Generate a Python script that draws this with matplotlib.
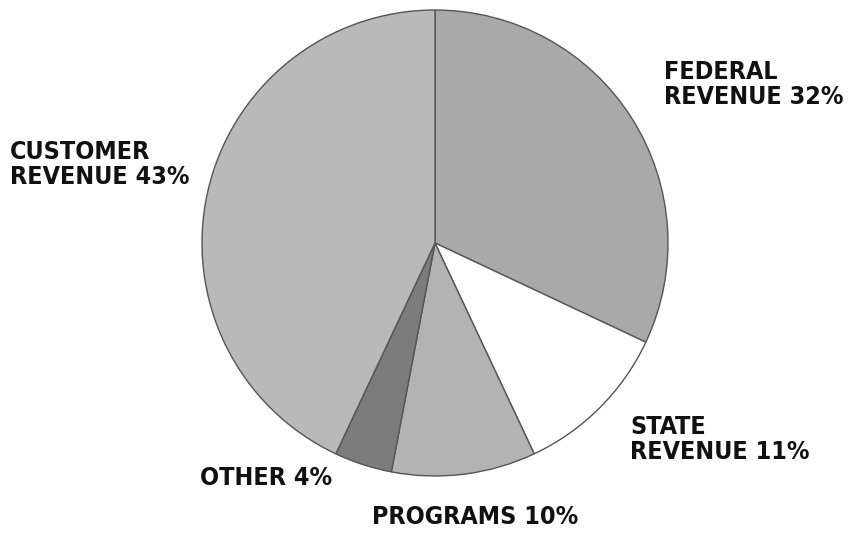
import matplotlib.pyplot as plt

labels = ["FEDERAL\nREVENUE 32%", "STATE\nREVENUE 11%", "PROGRAMS 10%", "OTHER 4%", "CUSTOMER\nREVENUE 43%"]
shares = [32, 11, 10, 4, 43]
colors = ["#a9a9a9", "#ffffff", "#b3b3b3", "#7c7c7c", "#b9b9b9"]
# label anchor (left, top) in pixel coords of the picture
label_pos = [(664, 60), (630, 415), (372, 505), (200, 466), (10, 140)]

W, H = 849, 539

fig = plt.figure(figsize=(W / 100, H / 100), dpi=100)
ax = fig.add_axes([0, 0, 1, 1])

ax.pie(shares, colors=colors, startangle=90, counterclock=False,
       center=(435, H - 243), radius=233, frame=True,
       wedgeprops=dict(edgecolor="#555555", linewidth=1.0))
ax.set_xlim(0, W)
ax.set_ylim(0, H)
ax.axis("off")

for lab, (x, y) in zip(labels, label_pos):
    ax.text(x, H - y, lab, ha="left", va="top", fontsize=18,
            family=["DejaVu Sans"], fontweight="bold", fontstretch="condensed",
            linespacing=1.05, color="#111111")

fig.savefig("out.png", dpi=100)
